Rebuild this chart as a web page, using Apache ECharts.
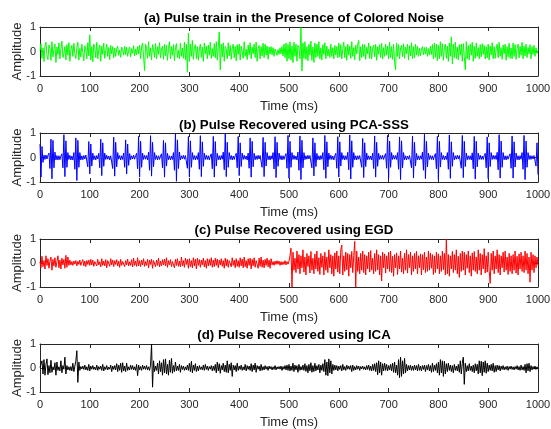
<!DOCTYPE html>
<html>
<head>
<meta charset="utf-8">
<script src="https://cdn.jsdelivr.net/npm/echarts@6/dist/echarts.min.js"></script>
<style>html,body{margin:0;padding:0;background:#fff}#c{width:551px;height:429px}</style>
</head>
<body>
<div id="c"></div>
<script>
// sample spacing of all four records (ms)
const STEP_MS = 2;
const xTicks = [0,100,200,300,400,500,600,700,800,900,1000];
const yTicks = [-1,0,1];
const titles = [
  "(a) Pulse train in the Presence of Colored Noise",
  "(b) Pulse Recovered using PCA-SSS",
  "(c) Pulse Recovered using EGD",
  "(d) Pulse Recovered using ICA"
];
const xLabel = "Time (ms)";
const yLabel = "Amplitude";

// (a) noisy observation, one row = 50 ms
const noisy = [
.05,.32,-.28,.15,-.41,.22,.38,-.19,-.33,.27,.12,-.36,.4,-.22,.08,.31,-.45,.18,-.12,.35,-.3,.1,.42,-.25,-.08,
.2,-.34,.28,-.15,.36,-.4,.06,.25,-.2,.33,-.1,-.29,.17,.38,-.35,.12,-.22,.3,-.05,-.38,.24,.1,-.3,.36,-.18,
.68,-.35,.2,-.42,.3,.15,-.25,.38,-.3,.08,.27,-.4,.22,-.12,.34,-.28,.05,.3,-.2,.16,-.33,.25,-.1,.2,-.26,
.14,-.2,.1,.22,-.16,.06,-.24,.18,.08,-.15,.21,-.12,.17,-.2,.04,.19,-.22,.12,-.08,.24,-.18,.1,-.14,.2,-.1,
.26,-.3,.18,.35,-.22,-.78,.3,.12,-.28,.4,-.2,.15,-.35,.28,.08,-.24,.33,-.3,.2,-.12,.36,-.27,.1,.22,-.32,
.3,-.18,.25,-.36,.12,.4,-.3,.2,-.15,.28,-.38,.16,.32,-.25,.06,-.3,.35,-.2,.14,-.28,.38,-.35,.3,-.85,.75,
-.4,.3,-.2,.45,-.32,.15,.28,-.3,.2,-.36,.1,.3,-.24,.18,-.4,.35,-.1,.22,-.3,.26,-.15,.38,-.28,.12,-.2,
.32,-.26,.4,-.35,.18,.8,-.75,.3,-.22,.35,-.4,.2,.1,-.3,.36,-.18,.25,-.32,.14,.3,-.26,.2,-.38,.28,-.12,
.3,-.35,.22,.15,-.28,.4,-.2,.1,-.33,.26,-.14,.36,-.3,.18,-.1,.3,-.25,.38,-.4,.12,.25,-.3,.2,-.18,.34,
-.26,.3,-.15,.22,-.32,.18,-.1,.2,-.14,.16,-.2,.1,.12,-.16,.08,-.12,.15,-.1,.2,-.18,.3,-.25,.35,-.4,.28,
-.3,.4,-.35,.22,-.45,.38,-.2,.3,-.4,.25,.15,-.3,.98,-.8,.35,-.28,.4,-.32,.2,-.38,.3,-.15,.42,-.36,.18,
-.45,.35,-.25,.3,-.2,.4,-.3,.15,-.35,.28,-.12,.36,-.3,.22,-.18,.1,-.25,.3,-.2,.16,-.3,.25,-.14,.2,-.26,
.34,-.22,.28,-.3,.12,.38,-.25,.2,-.36,.3,-.15,.22,-.28,.4,-.2,.16,-.34,.26,-.1,.3,.45,-.38,.2,-.25,.3,
-.2,.28,-.32,.18,-.1,.35,-.28,.22,-.3,.14,.26,-.22,.3,-.36,.2,-.12,.28,-.25,.34,-.3,.16,-.2,.3,-.15,.22,
-.3,.38,-.25,.2,-.32,.3,-.4,-.75,.35,-.2,.28,-.3,.15,.25,-.22,.32,-.28,.18,-.1,.3,-.35,.24,-.18,.36,-.3,
.2,-.26,.3,-.15,.22,-.2,.14,-.18,.1,.2,-.14,.16,-.1,.18,-.2,.12,-.15,.22,-.12,.28,-.3,.35,-.24,.3,-.38,
.26,-.3,.4,-.2,.32,-.36,.15,.3,-.28,.22,-.4,.35,-.2,.6,-.5,.3,-.25,.38,-.3,.18,-.35,.28,-.15,.3,-.4,
.32,-.2,-.75,.4,-.3,.25,-.35,.3,-.15,.38,-.4,.22,-.28,.35,-.2,.16,-.3,.28,-.22,.32,-.12,.25,-.3,.2,-.26,
.3,-.35,.22,-.15,.36,-.3,.2,-.28,.12,.3,-.25,.38,-.2,.16,-.32,.26,-.1,.3,-.36,.2,-.22,.34,-.28,.15,-.3,
.35,-.2,.28,-.32,.12,.3,-.26,.2,-.15,.38,-.3,.22,-.18,.3,-.25,.16,-.1,.28,-.3,.2,-.12,.25,-.2,.15,-.08,
.05];

// (b) PCA-SSS recovered pulse train (bursts every ~25 ms)
const pcaSss = [
.55,-.8,.45,-.2,.1,-.08,.1,-.06,.09,.18,-.45,.75,-.87,.7,-.42,.22,-.1,.08,-.1,.07,-.09,.06,.15,-.42,.93,
-.78,.68,-.4,.2,-.08,.09,-.1,.06,-.1,.2,-.48,.8,-.94,.7,-.4,.2,-.1,.07,-.09,.08,-.06,.1,.14,-.38,.65,
-.67,.55,-.35,.18,-.09,.07,-.1,.08,-.06,.17,-.42,.75,-.74,.6,-.36,.18,-.08,.09,-.07,.06,-.1,.07,.15,-.45,.83,
-.76,.62,-.38,.2,-.07,.08,-.1,.07,-.08,.18,-.4,.72,-.67,.55,-.32,.16,-.09,.07,-.06,.09,-.07,.08,.17,-.46,.86,
-.8,.66,-.4,.18,-.08,.09,-.07,.08,-.1,.22,-.52,.89,-.76,.62,-.38,.2,-.08,.08,-.1,.07,-.08,.06,.15,-.42,.7,
-.8,.6,-.35,.17,-.09,.07,-.1,.06,-.08,.2,-.52,.97,-.97,.72,-.45,.22,-.1,.07,-.06,.09,-.07,.08,.16,-.44,.86,
-.8,.68,-.4,.2,-.08,.08,-.1,.07,-.08,.2,-.48,.89,-.78,.64,-.36,.18,-.08,.09,-.08,.07,-.1,.06,.15,-.46,.86,
-.8,.65,-.35,.17,-.09,.07,-.1,.08,-.07,.22,-.5,.97,-.78,.62,-.4,.2,-.08,.08,-.1,.06,-.08,.07,.17,-.42,.86,
-.74,.6,-.37,.18,-.08,.09,-.07,.06,-.1,.18,-.44,.8,-.8,.66,-.38,.17,-.09,.07,-.08,.09,-.06,.08,.15,-.4,.82,
-.78,.62,-.35,.2,-.09,.07,-.1,.07,-.07,.2,-.47,.85,-.82,.62,-.36,.18,-.08,.08,-.1,.07,-.08,.06,.16,-.44,.9,
-.85,.66,-.4,.2,-.08,.09,-.08,.06,-.1,.22,-.52,.88,-.9,.7,-.42,.2,-.09,.07,-.07,.09,-.06,.08,.15,-.42,.8,
-.75,.6,-.37,.17,-.09,.07,-.1,.08,-.07,.2,-.5,.9,-.85,.64,-.38,.18,-.08,.09,-.08,.06,-.1,.07,.17,-.44,.85,
-.8,.64,-.35,.2,-.08,.08,-.1,.07,-.08,.21,-.5,.92,-.88,.68,-.4,.2,-.09,.07,-.1,.07,-.07,.08,.15,-.4,.78,
-.82,.6,-.37,.18,-.09,.07,-.08,.06,-.1,.18,-.45,.88,-.8,.62,-.36,.17,-.08,.08,-.07,.09,-.08,.06,.16,-.44,.9,
-.86,.67,-.4,.2,-.08,.09,-.07,.08,-.08,.2,-.48,.84,-.9,.68,-.42,.2,-.09,.07,-.1,.06,-.07,.08,.15,-.42,.88,
-.84,.62,-.35,.17,-.09,.07,-.1,.07,-.07,.22,-.52,.95,-.86,.66,-.38,.18,-.08,.08,-.08,.07,-.1,.07,.16,-.46,.86,
-.9,.66,-.39,.2,-.08,.08,-.1,.06,-.08,.2,-.48,.92,-.85,.64,-.36,.2,-.09,.07,-.07,.09,-.06,.08,.15,-.44,.9,
-.82,.66,-.37,.18,-.09,.07,-.08,.07,-.1,.19,-.46,.86,-.88,.66,-.38,.18,-.08,.09,-.08,.06,-.08,.07,.17,-.42,.84,
-.86,.6,-.37,.2,-.08,.09,-.07,.08,-.08,.21,-.5,.93,-.84,.67,-.4,.2,-.09,.07,-.1,.07,-.07,.06,.15,-.44,.88,
-.84,.64,-.39,.18,-.09,.07,-.1,.07,-.07,.2,-.48,.9,-.9,.67,-.4,.2,-.08,.08,-.08,.07,-.06,.08,.13,-.35,.6,
-.7];

// (c) EGD recovered
const egd = [
.05,-.2,.28,-.15,.1,-.25,.3,-.1,.18,-.22,.08,.25,-.3,.15,-.12,.22,-.18,.05,.3,-.2,.12,-.25,.2,-.08,.15,
-.22,.32,-.18,.25,-.1,.12,-.08,.06,-.1,.08,-.05,.1,-.12,.07,-.06,.12,-.1,.05,.14,-.12,.08,-.15,.1,-.06,.12,
-.1,.15,-.08,.12,-.14,.06,.1,-.12,.15,-.08,.05,-.16,.18,-.1,.08,-.12,.14,-.2,.1,.06,-.14,.18,-.08,.12,-.15,
.1,-.06,.14,-.12,.08,-.18,.15,-.1,.06,.12,-.15,.1,-.08,.16,-.12,.05,-.1,.14,-.16,.2,-.1,.08,-.14,.22,-.12,
.1,-.15,.12,-.08,.18,-.14,.06,-.1,.15,-.2,.12,-.06,.16,-.22,.1,.08,-.15,.12,-.1,.2,-.16,.08,-.12,.14,-.08,
.16,-.12,.22,-.18,.1,-.08,.14,-.15,.06,.12,-.2,.15,-.1,.18,-.14,.08,-.16,.25,-.12,.1,-.18,.2,-.06,.15,-.22,
.18,-.15,.1,-.2,.22,-.12,.16,-.25,.2,-.1,.14,-.18,.12,-.08,.2,-.16,.1,-.22,.18,-.12,.15,-.1,.22,-.18,.12,
-.15,.2,-.1,.16,-.2,.12,-.08,.18,-.14,.1,-.22,.2,-.12,.15,-.18,.1,.14,-.16,.22,-.1,.12,-.2,.18,-.14,.1,
-.18,.22,-.12,.16,-.2,.25,-.15,.1,-.22,.18,-.1,.2,-.25,.15,-.12,.22,-.18,.1,.16,-.22,.2,-.14,.25,-.18,.12,
-.2,.15,-.1,.2,-.16,.12,-.22,.18,-.08,.06,-.1,.08,-.06,.1,-.05,.08,-.1,.06,-.08,.05,-.06,.1,-.08,.06,-.05,
.08,.3,.62,-1,.45,-.3,.2,-.4,.5,-.25,.35,-.45,.3,-.2,.55,-.38,.25,-.5,.4,-.15,.3,-.42,.48,-.3,.2,
-.45,.38,-.25,.5,-.35,.22,-.48,.4,-.18,.3,-.5,.45,-.3,.25,-.4,.55,-.2,.35,-.45,.3,-.55,.42,-.25,.5,-.38,
.3,-.45,.55,.75,-.5,.3,-.35,.45,-.28,.4,-.55,.35,-.2,.48,-.4,.3,.9,-1,.5,-.35,.25,-.45,.4,-.3,.5,
-.4,.35,-.5,.3,-.25,.45,-.38,.52,-.3,.2,-.45,.4,-.35,.55,-.28,.35,-.5,.3,-.75,.45,-.2,.38,-.42,.3,-.25,
.45,-.35,.5,-.4,.28,-.55,.35,-.2,.42,-.48,.3,-.25,.5,-.38,.2,-.45,.4,-.3,.55,-.42,.35,-.2,.45,-.5,.3,
-.35,.4,-.25,.48,-.45,.3,-.2,.38,-.5,.35,-.28,.45,-.4,.25,-.35,.5,-.3,.42,-.22,.35,-.48,.3,-.4,.45,-.25,
.38,-.45,.3,-.35,.5,-.28,.4,-.5,1,-.45,.35,-.55,.3,-.25,.48,-.4,.35,-.3,.55,-.45,.28,-.6,.4,-.35,.5,
-.3,.45,-.5,.35,-.22,.5,-.4,.3,-.55,.42,-.3,.48,-.35,.25,-.45,.55,-.3,.4,-.5,.35,-.25,.6,-.42,.3,-.38,
.45,-.35,-.85,.4,-.3,.5,-.45,.3,-.25,.55,-.4,.35,-.5,.3,-.2,.45,-.38,.5,-.3,.25,-.48,.4,-.35,.3,-.45,
.35,-.3,.5,-.42,.28,-.5,.38,-.25,.45,-.35,.3,-.4,.5,-.3,.4,-.45,.25,-.8,.45,-.3,.35,-.4,.3,-.2,.25,
-.1];

// (d) ICA recovered
const ica = [
.02,-.05,.3,-.25,.35,-.3,.15,.38,-.28,.1,-.2,.32,-.18,.05,-.08,.22,-.3,.25,-.1,.05,-.12,.3,-.2,.1,-.05,
.45,-.25,.1,-.08,.05,-.1,.06,-.12,.2,-.15,.08,.3,.72,-.6,.25,-.1,.06,-.04,.08,-.06,.12,-.08,.05,-.1,.15,
-.12,.08,-.05,.1,-.06,.04,-.08,.12,-.1,.06,-.05,.08,-.1,.15,-.12,.05,-.06,.1,-.08,.04,-.05,.12,-.15,.08,-.06,
.1,-.08,.18,-.15,.12,-.1,.2,-.18,.22,-.12,.08,-.15,.2,-.1,.05,-.08,.12,-.06,.1,-.08,.05,-.1,.15,-.32,.12,
-.08,.06,-.1,.12,-.05,.08,-.06,.1,-.08,.05,-.1,.12,1,-.8,.3,-.15,.08,-.1,.2,-.25,.3,-.15,.22,-.3,.35,
-.2,.38,-.25,.15,-.3,.32,-.18,.4,-.22,.1,-.15,.25,-.12,.08,-.1,.15,-.18,.1,-.06,.08,-.1,.05,-.08,.12,-.1,
.2,-.15,.28,-.2,.12,-.1,.18,-.15,.08,-.12,.1,-.06,.05,-.08,.12,-.1,.15,-.06,.08,-.1,.06,-.05,.1,-.12,.08,
-.1,.15,-.2,.25,-.12,.18,-.22,.1,-.08,.2,-.15,.12,-.18,.3,-.2,.15,-.1,.22,-.35,.12,-.08,.1,-.15,.2,-.1,
.08,-.06,.12,-.1,.05,-.08,.15,-.12,.1,-.06,.08,-.1,.18,-.15,.12,-.08,.2,-.18,.1,-.05,.08,-.12,.15,-.1,.06,
-.08,.1,-.05,.06,-.1,.08,-.04,.06,-.08,.05,-.06,.1,-.08,.05,-.04,.06,-.05,.08,-.1,.06,-.05,.1,-.08,.12,-.1,
.15,-.12,.08,-.1,.2,-.15,.12,-.08,.1,-.18,.15,-.1,.06,-.08,.12,-.1,.18,-.14,.1,-.2,.15,-.12,.22,-.18,.1,
-.15,.2,-.12,.1,-.08,.15,-.2,.12,-.1,.18,-.15,.35,-.3,.25,-.32,.38,-.2,.3,-.25,.15,-.1,.12,-.08,.1,-.12,
.08,-.06,.1,-.12,.15,-.08,.06,-.1,.12,-.05,.08,-.06,.1,-.15,.12,-.1,.06,-.08,.1,-.05,.08,-.1,.06,-.04,.08,
-.06,.05,-.08,.1,-.06,.12,-.1,.08,-.12,.15,-.1,.18,-.15,.22,-.28,.3,-.2,.25,-.3,.18,-.12,.2,-.1,.15,-.12,
.1,-.08,.15,-.12,.2,-.18,.25,-.2,.12,-.3,.35,-.4,.45,-.35,.3,-.25,.4,-.2,.15,-.12,.1,-.08,.12,-.1,.08,
-.1,.12,-.08,.1,-.12,.15,-.1,.08,-.12,.1,-.06,.12,-.15,.1,-.08,.15,-.12,.1,-.18,.2,-.15,.12,-.1,.18,-.2,
.25,-.3,.35,-.2,.3,-.35,.28,-.25,.18,-.15,.2,-.1,.12,-.15,.1,-.2,.15,-.1,.08,-.12,.15,-.18,.3,-.25,.2,
.45,-.68,.2,-.15,.1,-.12,.18,-.1,.08,-.15,.12,-.2,.18,-.12,.15,-.25,.3,-.2,.28,-.32,.25,-.18,.3,-.22,.2,
-.15,.12,-.1,.15,-.12,.2,-.18,.1,-.15,.12,-.08,.1,-.12,.08,-.06,.1,-.08,.05,-.06,.08,-.1,.06,-.05,.08,-.06,
.05,-.08,.06,-.05,.1,-.08,.06,-.1,.12,-.08,.06,-.1,.15,-.2,.18,-.12,.2,-.15,.1,-.08,.06,-.05,.08,-.06,.05,
-.03];

const signals = [noisy, pcaSss, egd, ica];
const colors = ['#00ff00', '#0000ff', '#ff0000', '#000000'];

const FONT = 'Liberation Sans, Arial, Helvetica, sans-serif';
const AX = '#262626';
const gridTops = [27, 133, 239, 344];
const gridHeights = [49, 49, 48, 48];
const titleTops = [7, 114, 219, 324];

const option = {
  animation: false,
  backgroundColor: '#ffffff',
  title: titles.map((t, i) => ({
    text: t, left: 289, top: titleTops[i], textAlign: 'center',
    textStyle: { fontFamily: FONT, fontSize: 13.3, fontWeight: 'bold', color: '#000' }
  })),
  grid: gridTops.map((t, i) => ({ left: 40, width: 498, top: t, height: gridHeights[i],
    containLabel: false, outerBoundsMode: 'none' })),
  xAxis: [], yAxis: [], series: []
};

signals.forEach((vals, i) => {
  const line = { show: true, onZero: false, lineStyle: { color: AX, width: 1 } };
  const tick = { show: true, inside: true, length: 4, lineStyle: { color: AX } };
  option.xAxis.push({
    type: 'value', gridIndex: i, min: xTicks[0], max: xTicks[xTicks.length - 1], interval: 100,
    position: 'bottom', axisLine: line, splitLine: { show: false }, axisTick: tick,
    axisLabel: { fontFamily: FONT, fontSize: 11, color: AX, margin: 7, formatter: v => String(v) },
    name: xLabel, nameLocation: 'middle', nameGap: 24, nameMoveOverlap: false,
    nameTextStyle: { fontFamily: FONT, fontSize: 13, color: AX }
  });
  option.xAxis.push({
    type: 'value', gridIndex: i, min: xTicks[0], max: xTicks[xTicks.length - 1], interval: 100,
    position: 'top', axisLine: line, splitLine: { show: false }, axisTick: tick,
    axisLabel: { show: false }
  });
  option.yAxis.push({
    type: 'value', gridIndex: i, min: yTicks[0], max: yTicks[yTicks.length - 1], interval: 1,
    position: 'left', axisLine: line, splitLine: { show: false }, axisTick: tick,
    axisLabel: { fontFamily: FONT, fontSize: 11, color: AX, margin: 4 },
    name: yLabel, nameLocation: 'middle', nameGap: 16, nameRotate: 90, nameMoveOverlap: false,
    nameTextStyle: { fontFamily: FONT, fontSize: 13, color: AX }
  });
  option.yAxis.push({
    type: 'value', gridIndex: i, min: yTicks[0], max: yTicks[yTicks.length - 1], interval: 1,
    position: 'right', axisLine: line, splitLine: { show: false }, axisTick: tick,
    axisLabel: { show: false }
  });
  option.series.push({
    type: 'line', xAxisIndex: 2 * i, yAxisIndex: 2 * i, showSymbol: false, symbol: 'none',
    lineStyle: { color: colors[i], width: 1 }, silent: true, z: 1,
    data: vals.map((v, k) => [k * STEP_MS, v])
  });
});

const chart = echarts.init(document.getElementById('c'), null, { renderer: 'canvas' });
chart.setOption(option);
</script>
</body>
</html>
